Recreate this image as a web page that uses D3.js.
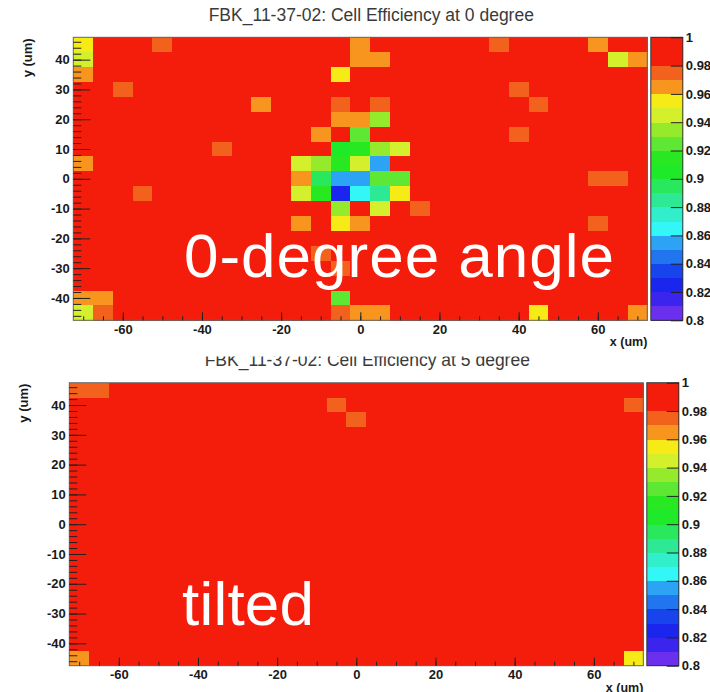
<!DOCTYPE html>
<html>
<head>
<meta charset="utf-8">
<script src="https://cdn.jsdelivr.net/npm/d3@7"></script>
<style>
  body { margin: 0; background: #fff; overflow: hidden; }
  svg { display: block; font-family: "Liberation Sans", Arial, Helvetica, sans-serif; }
</style>
</head>
<body>
<div id="chart"></div>
<script>
// bin centres in um (5 um pitch)
var xBins = [-70, -65, -60, -55, -50, -45, -40, -35, -30, -25, -20, -15, -10, -5, 0,
             5, 10, 15, 20, 25, 30, 35, 40, 45, 50, 55, 60, 65, 70];
var yBins = [45, 40, 35, 30, 25, 20, 15, 10, 5, 0, -5, -10, -15, -20, -25, -30, -35, -40, -45];

// every cell not listed is in the top (red) band
var baseEff = 0.99;

// [x, y, efficiency]
var cells0 = [
  [-70, 45, 0.955], [-70, 40, 0.945], [-70, 35, 0.965], [-50, 45, 0.975],
  [-60, 30, 0.975], [-25, 25, 0.965], [-35, 10, 0.975], [-70, 5, 0.965],
  [-55, -5, 0.975], [-70, -40, 0.965], [-65, -40, 0.965], [-70, -45, 0.945],
  [-65, -45, 0.975],
  [0, 45, 0.965], [0, 40, 0.965], [5, 40, 0.965], [-5, 35, 0.955],
  [-5, 25, 0.975], [5, 25, 0.975],
  [-5, 20, 0.965], [0, 20, 0.965], [5, 20, 0.935],
  [-10, 15, 0.965], [0, 15, 0.925],
  [-5, 10, 0.905], [0, 10, 0.915], [5, 10, 0.935], [10, 10, 0.945],
  [-15, 5, 0.945], [-10, 5, 0.935], [-5, 5, 0.915], [0, 5, 0.945], [5, 5, 0.855],
  [-15, 0, 0.965], [-10, 0, 0.895], [-5, 0, 0.855], [0, 0, 0.855], [5, 0, 0.925], [10, 0, 0.925],
  [-15, -5, 0.945], [-10, -5, 0.915], [-5, -5, 0.825], [0, -5, 0.865], [5, -5, 0.885], [10, -5, 0.955],
  [-5, -10, 0.935], [5, -10, 0.945], [15, -10, 0.975],
  [-15, -15, 0.965], [-5, -15, 0.955], [0, -15, 0.965],
  [-10, -25, 0.975], [-5, -30, 0.975], [-5, -40, 0.925],
  [-5, -45, 0.975], [0, -45, 0.965], [5, -45, 0.965],
  [35, 45, 0.975], [60, 45, 0.965], [65, 40, 0.945], [70, 40, 0.965],
  [40, 30, 0.975], [45, 25, 0.975], [40, 15, 0.975],
  [60, 0, 0.975], [65, 0, 0.975], [60, -15, 0.975],
  [45, -45, 0.955], [70, -45, 0.965]
];

// [x, y, efficiency]
var cells5 = [
  [-70, 45, 0.975], [-65, 45, 0.975], [-5, 40, 0.975], [0, 35, 0.972],
  [70, 40, 0.975], [-70, -45, 0.965], [70, -45, 0.955]
];

// 20 contour colours, 0.80 -> 1.00
var bandColors = ["#6a30ee", "#3a24ee", "#1a26ee", "#1844ee", "#2176f0",
                  "#2da3f6", "#33f6f6", "#31efcb", "#2de894", "#2ae85e",
                  "#1fea2a", "#28e822", "#5ee833", "#96ea2c", "#d4f02c",
                  "#f6eb16", "#f7951f", "#f2621c", "#f41d0b", "#f41d0b"];

var zTicks = [0.8, 0.82, 0.84, 0.86, 0.88, 0.9, 0.92, 0.94, 0.96, 0.98, 1];
var xTicks = [-60, -40, -20, 0, 20, 40, 60];
var yTicks = [-40, -30, -20, -10, 0, 10, 20, 30, 40];

var plotW = 574, plotH = 283;

var svg = d3.select("#chart")
  .append("svg")
  .attr("width", 710)
  .attr("height", 692);

var color = d3.scaleQuantize().domain([0.8, 1]).range(bandColors);

var x = d3.scaleLinear().domain([-72.5, 72.5]).range([0, plotW]);
var y = d3.scaleLinear().domain([-47.5, 47.5]).range([plotH, 0]);
var z = d3.scaleLinear().domain([0.8, 1]).range([plotH, 0]);

function drawPanel(left, top, title, cells, clipTop, id) {
  var g = svg.append("g")
    .attr("transform", "translate(" + left + "," + top + ")");

  // fill the grid, using the listed cells where we have them
  var lookup = {};
  cells.forEach(function(c) { lookup[c[0] + "," + c[1]] = c[2]; });
  var grid = [];
  yBins.forEach(function(yy) {
    xBins.forEach(function(xx) {
      var v = lookup[xx + "," + yy];
      grid.push({ x: xx, y: yy, eff: v === undefined ? baseEff : v });
    });
  });

  g.selectAll(".cell")
    .data(grid)
    .enter().append("rect")
      .attr("class", "cell")
      .attr("x", function(d) { return x(d.x - 2.5); })
      .attr("y", function(d) { return y(d.y + 2.5); })
      .attr("width", function(d) { return x(d.x + 2.5) - x(d.x - 2.5) + 0.3; })
      .attr("height", function(d) { return y(d.y - 2.5) - y(d.y + 2.5) + 0.3; })
      .attr("fill", function(d) { return color(d.eff); })
      .attr("shape-rendering", "crispEdges");

  g.append("rect")
    .attr("width", plotW)
    .attr("height", plotH)
    .attr("fill", "none")
    .attr("stroke", "#666")
    .attr("stroke-width", 1);

  // x axis: ticks point up into the plot
  g.append("g")
    .attr("class", "axis")
    .attr("transform", "translate(0," + plotH + ")")
    .call(d3.axisTop(x).tickValues(xTicks).tickSize(8).tickFormat(""));
  g.append("g")
    .attr("class", "axis")
    .attr("transform", "translate(0," + plotH + ")")
    .call(d3.axisTop(x).tickValues(d3.range(-70, 71, 5)).tickSize(4).tickFormat(""));
  g.append("g")
    .attr("class", "axis labels")
    .attr("transform", "translate(0," + plotH + ")")
    .call(d3.axisBottom(x).tickValues(xTicks).tickSize(0).tickPadding(4)
      .tickFormat(function(d) { return String(d); }));

  // y axis: ticks point right
  g.append("g")
    .attr("class", "axis")
    .call(d3.axisRight(y).tickValues(yTicks).tickSize(17).tickFormat(""));
  g.append("g")
    .attr("class", "axis")
    .call(d3.axisRight(y).tickValues(d3.range(-46, 47, 2)).tickSize(8).tickFormat(""));
  g.append("g")
    .attr("class", "axis labels")
    .call(d3.axisLeft(y).tickValues(yTicks).tickSize(0).tickPadding(3.5)
      .tickFormat(function(d) { return String(d); }));

  // colour bar
  var cb = g.append("g").attr("transform", "translate(" + (plotW + 3.5) + ",0)");
  var edges = [0.8].concat(color.thresholds(), [1]);
  cb.selectAll(".band")
    .data(bandColors)
    .enter().append("rect")
      .attr("class", "band")
      .attr("x", 0)
      .attr("width", 32)
      .attr("y", function(d, i) { return z(edges[i + 1]); })
      .attr("height", function(d, i) { return z(edges[i]) - z(edges[i + 1]) + 0.3; })
      .attr("fill", function(d) { return d; })
      .attr("shape-rendering", "crispEdges");
  cb.append("rect")
    .attr("width", 32)
    .attr("height", plotH)
    .attr("fill", "none")
    .attr("stroke", "#333");
  cb.append("g")
    .attr("class", "axis")
    .attr("transform", "translate(32,0)")
    .call(d3.axisLeft(z).tickValues(zTicks).tickSize(12).tickFormat(""));
  cb.append("g")
    .attr("class", "axis labels")
    .attr("transform", "translate(32,0)")
    .call(d3.axisRight(z).tickValues(zTicks).tickSize(0).tickPadding(3)
      .tickFormat(function(d) { return String(d); }));

  g.selectAll(".axis .domain").remove();
  g.selectAll(".axis line").attr("stroke", "#222");
  g.selectAll(".labels text")
    .attr("fill", "#1a1a1a")
    .style("font-size", "13px")
    .style("font-weight", "bold")
    .style("font-family", "'Liberation Sans', Arial, sans-serif");

  // title, the lower one is cut off at the top in the original
  var t = g.append("text")
    .attr("x", 298)
    .attr("y", -16.8)
    .attr("text-anchor", "middle")
    .attr("fill", "#3a3a3a")
    .style("font-size", "17.5px")
    .text(title);
  if (clipTop !== null) {
    g.append("clipPath")
      .attr("id", id)
      .append("rect")
        .attr("x", -100).attr("y", clipTop)
        .attr("width", 900).attr("height", 400);
    t.attr("clip-path", "url(#" + id + ")");
  }

  g.append("text")
    .attr("x", plotW)
    .attr("y", plotH + 26)
    .attr("text-anchor", "end")
    .attr("fill", "#1a1a1a")
    .style("font-size", "12.5px")
    .style("font-weight", "bold")
    .text("x (um)");

  g.append("text")
    .attr("transform", "translate(-41,1) rotate(-90)")
    .attr("text-anchor", "end")
    .attr("fill", "#1a1a1a")
    .style("font-size", "13px")
    .style("font-weight", "bold")
    .text("y (um)");
}

drawPanel(73.3, 37.3, "FBK_11-37-02: Cell Efficiency at 0 degree", cells0, null, "c0");
drawPanel(69.3, 382.7, "FBK_11-37-02: Cell Efficiency at 5 degree", cells5, -26.2, "c5");

// white annotations laid on top of the maps
svg.append("text")
  .attr("x", 184)
  .attr("y", 277)
  .attr("fill", "#fff")
  .attr("textLength", 430)
  .attr("lengthAdjust", "spacing")
  .style("font-size", "62px")
  .text("0-degree angle");

svg.append("text")
  .attr("x", 182)
  .attr("y", 625)
  .attr("fill", "#fff")
  .attr("textLength", 132)
  .attr("lengthAdjust", "spacing")
  .style("font-size", "62px")
  .text("tilted");
</script>
</body>
</html>
